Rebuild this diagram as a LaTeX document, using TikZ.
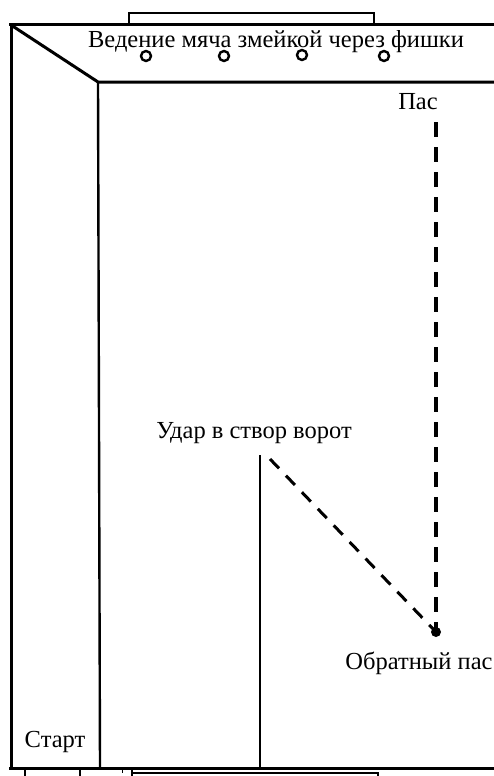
\documentclass[tikz,border=0pt]{standalone}
\usepackage{fontspec}
\setmainfont{Liberation Serif}
\begin{document}
\begin{tikzpicture}[x=1pt,y=-1pt,
  wall/.style={line width=3pt},
  thinwall/.style={line width=2.4pt},
  lbl/.style={font=\fontsize{24.5}{27}\selectfont, inner sep=0pt},
  chip/.style={circle, draw, line width=2.4pt, minimum size=10pt, inner sep=0pt},
  passline/.style={line width=3.4pt, dash pattern=on 15pt off 10pt},
  shotline/.style={line width=3pt, dash pattern=on 13pt off 10pt},
  ball/.style={circle, fill, minimum size=10pt, inner sep=0pt}]
\useasboundingbox (0,0) rectangle (494,776);
% coordinates
\coordinate (tl) at (11,25);
\coordinate (tr) at (494,25);
\coordinate (ic) at (98,82);
\coordinate (ir) at (494,82);
\coordinate (bl) at (11,768);
\coordinate (br) at (494,768);
\coordinate (ib) at (100,768);
\coordinate (gt1) at (129,25);
\coordinate (gt2) at (374,25);
\coordinate (sh) at (260,455);
\coordinate (shb) at (260,768);
\coordinate (pt) at (436,122);
\coordinate (ds) at (270,459);
% structure
\draw[thinwall] (gt1) -- (129,13) -- (374,13) -- (gt2);
\draw[wall] (9,25) -- (tr);
\draw[wall] (tl) -- (bl);
\draw[wall] (tl) -- (ic) -- (ir);
\draw[thinwall] (ic) -- (ib);
\draw[wall] (9,768) -- (br);
\draw[thinwall] (sh) -- (shb);
% bottom stubs
\draw[thinwall] (25,768) -- (25,776);
\draw[thinwall] (80,768) -- (80,776);
\draw[thinwall] (132,768) -- (132,776);
\draw[thinwall] (132,773) -- (378,773) -- (378,776);
\draw[line width=1pt] (122,770) -- (122,773);
% texts
\node[lbl] (drib) at (276,42) {Ведение мяча змейкой через фишки};
\node[lbl] (pas) at (418,102) {Пас};
\node[lbl] (shot) at (254,433) {Удар в створ ворот};
\node[lbl] (ret) at (419,663) {Обратный пас};
\node[lbl] (start) at (55,742) {Старт};
% chips
\node[chip] (c1) at (146,56) {};
\node[chip] (c2) at (224,56) {};
\node[chip] (c3) at (302,55) {};
\node[chip] (c4) at (384,56) {};
% ball and passes
\node[ball] (b) at (436,632) {};
\draw[passline] (pt) -- (b.center);
\draw[shotline] (ds) -- (b.center);
\end{tikzpicture}
\end{document}
